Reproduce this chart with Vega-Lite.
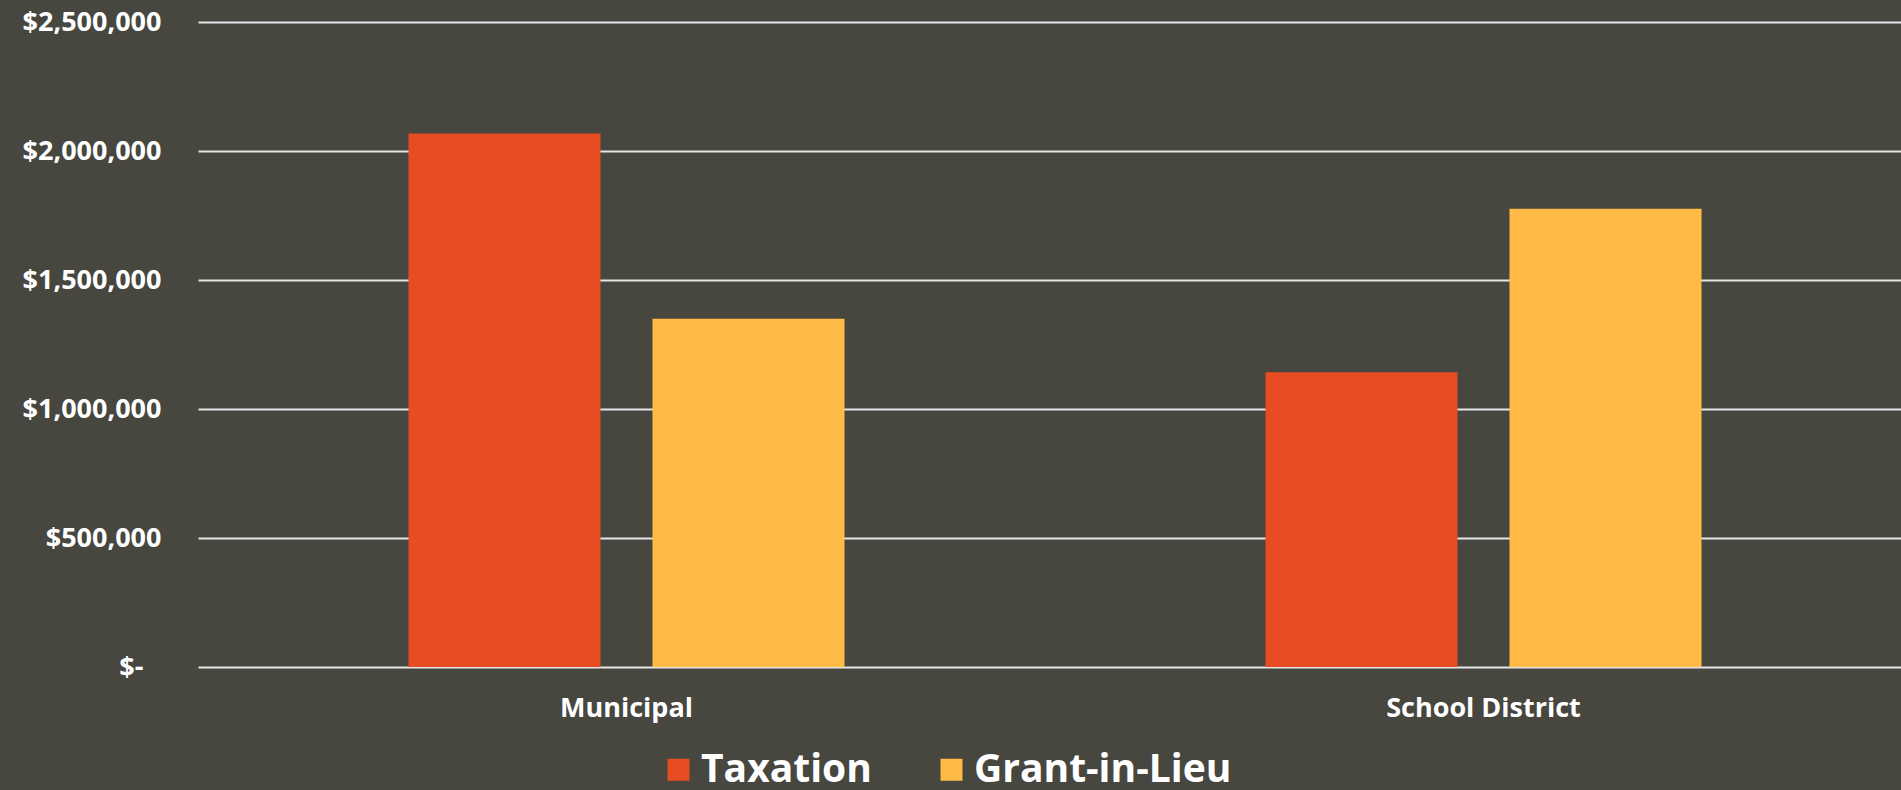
{
  "$schema": "https://vega.github.io/schema/vega-lite/v6.json",
  "autosize": {"type": "none"},
  "padding": {"left": 198, "top": 22, "right": 0, "bottom": 123},
  "width": 1703,
  "height": 645,
  "background": "#47463f",
  "config": {
    "view": {"stroke": null},
    "font": "Open Sans"
  },
  "data": {
    "values": [
      {"category": "Municipal", "series": "Taxation", "value": 2068000},
      {"category": "Municipal", "series": "Grant-in-Lieu", "value": 1350000},
      {"category": "School District", "series": "Taxation", "value": 1142000},
      {"category": "School District", "series": "Grant-in-Lieu", "value": 1776000}
    ]
  },
  "mark": {"type": "bar"},
  "encoding": {
    "x": {
      "field": "category",
      "type": "nominal",
      "sort": ["Municipal", "School District"],
      "scale": {"paddingInner": 0.4912, "paddingOuter": 0.2456, "range": [0, 1714]},
      "axis": {
        "title": null,
        "labelAngle": 0,
        "domain": false,
        "ticks": false,
        "labelPadding": 28,
        "labelLimit": 500,
        "labelFont": "Open Sans",
        "labelFontSize": 27,
        "labelFontWeight": "bold",
        "labelColor": "#ffffff"
      }
    },
    "xOffset": {
      "field": "series",
      "type": "nominal",
      "sort": ["Taxation", "Grant-in-Lieu"],
      "scale": {"paddingInner": 0.213, "paddingOuter": 0}
    },
    "y": {
      "field": "value",
      "type": "quantitative",
      "scale": {"domain": [0, 2500000], "nice": false},
      "axis": {
        "title": null,
        "values": [0, 500000, 1000000, 1500000, 2000000, 2500000],
        "labelExpr": "datum.value === 0 ? '$-' : '$' + format(datum.value, ',')",
        "domain": false,
        "ticks": false,
        "labelPadding": {"condition": {"test": "datum.value === 0", "value": 55}, "value": 37},
        "labelFont": "Open Sans",
        "labelFontSize": 27,
        "labelFontWeight": "bold",
        "labelColor": "#ffffff",
        "grid": true,
        "gridColor": "#e6e6e6",
        "gridWidth": 2
      }
    },
    "color": {
      "field": "series",
      "type": "nominal",
      "sort": ["Taxation", "Grant-in-Lieu"],
      "scale": {"domain": ["Taxation", "Grant-in-Lieu"], "range": ["#e84c22", "#ffbb45"]},
      "legend": {
        "title": null,
        "orient": "none",
        "direction": "horizontal",
        "legendX": 461,
        "legendY": 728,
        "symbolType": "square",
        "symbolSize": 484,
        "symbolStrokeWidth": 0,
        "symbolOpacity": 1,
        "labelFont": "Open Sans",
        "labelFontSize": 39,
        "labelFontWeight": "bold",
        "labelColor": "#ffffff",
        "labelOffset": 3,
        "columnPadding": 60,
        "labelLimit": 400
      }
    }
  }
}
